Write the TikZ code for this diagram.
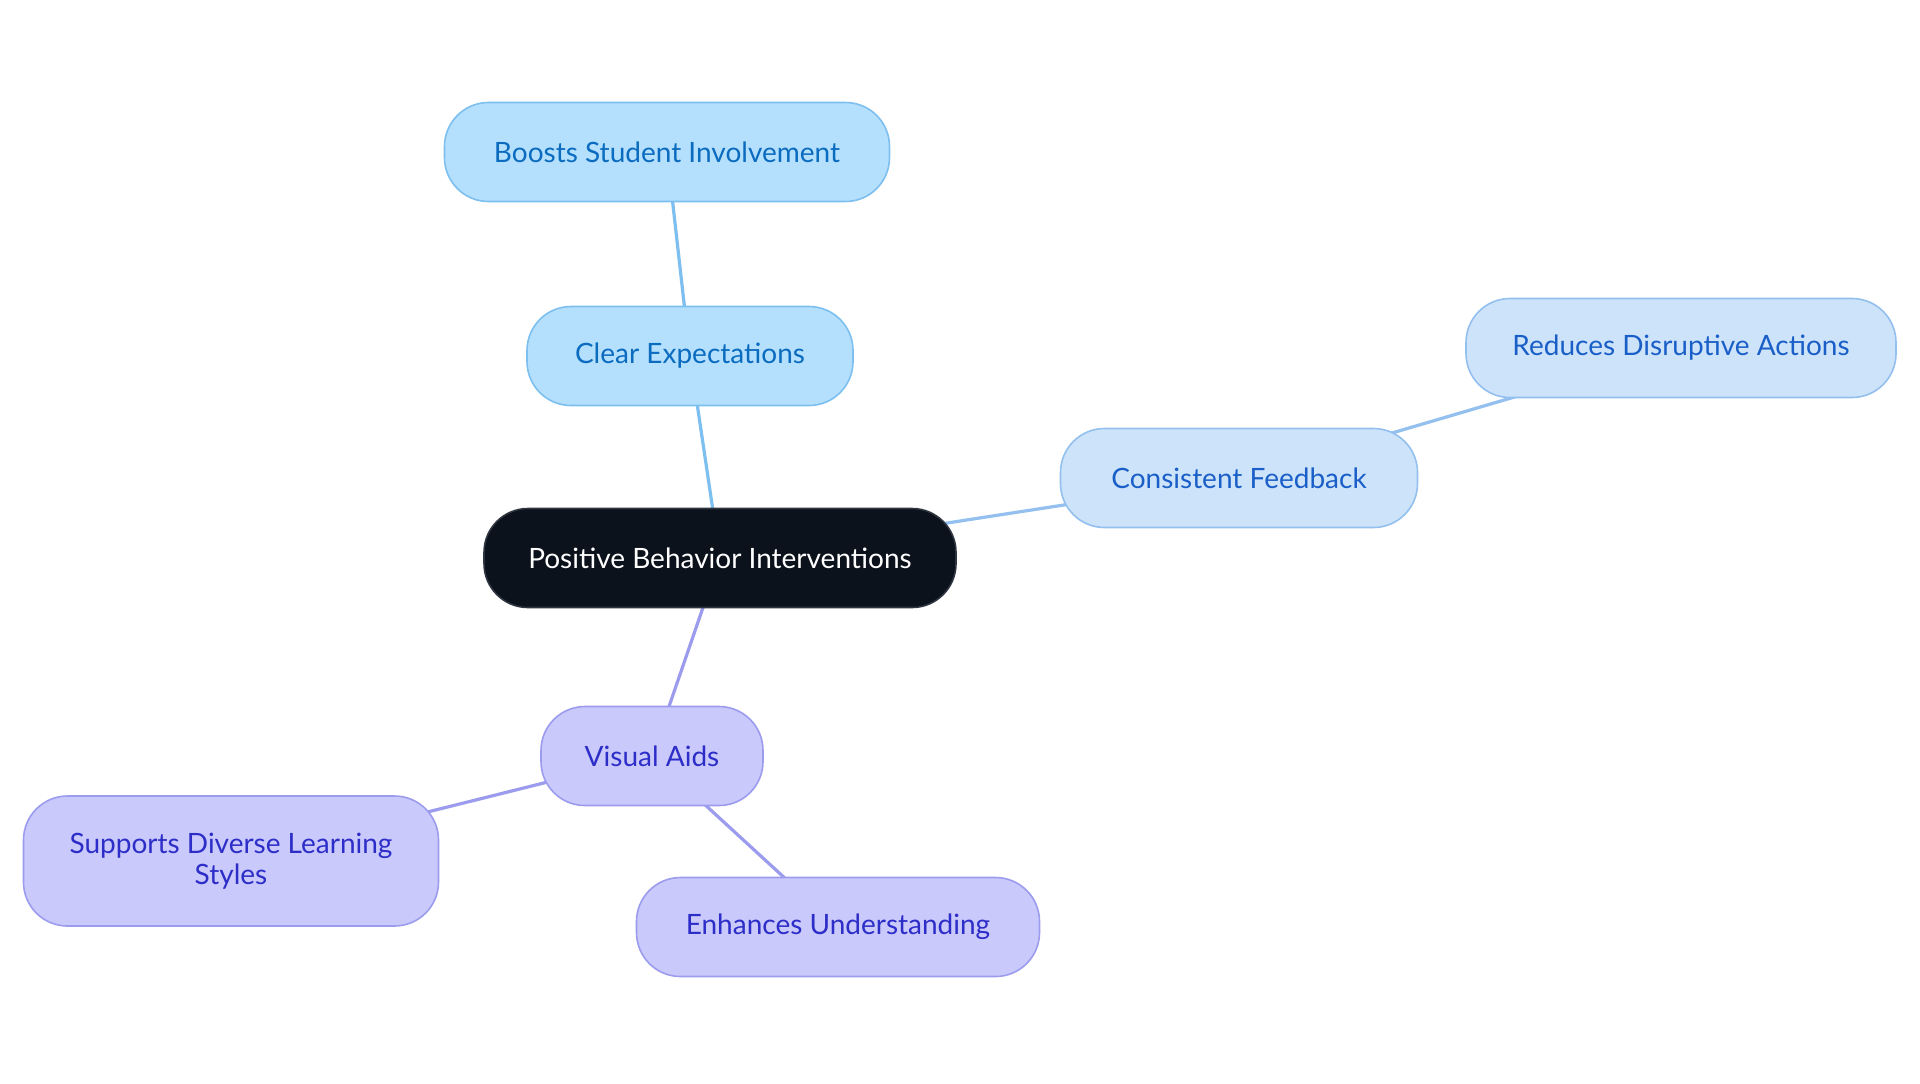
\documentclass[tikz,border=0pt]{standalone}
\usepackage{fontspec}
\setmainfont{Lato}
\usetikzlibrary{backgrounds}
\definecolor{rootfill}{HTML}{0C121B}
\definecolor{rootdraw}{HTML}{2E3540}
\definecolor{bfill}{HTML}{B4E0FD}
\definecolor{bdraw}{HTML}{7DBFEF}
\definecolor{btext}{HTML}{0B6BBF}
\definecolor{cfill}{HTML}{CDE3FA}
\definecolor{cdraw}{HTML}{93C0EF}
\definecolor{ctext}{HTML}{1A5FC8}
\definecolor{pfill}{HTML}{C9C9FC}
\definecolor{pdraw}{HTML}{9C9CEE}
\definecolor{ptext}{HTML}{2D2DC8}
\tikzset{
  box/.style={rounded corners=22pt, line width=0.8pt, minimum height=49.5pt, align=center, inner sep=0pt, font=\fontsize{14}{15.5}\selectfont},
  rootbox/.style={box, fill=rootfill, draw=rootdraw, text=white},
  bluebox/.style={box, fill=bfill, draw=bdraw, text=btext},
  lbluebox/.style={box, fill=cfill, draw=cdraw, text=ctext},
  purplebox/.style={box, fill=pfill, draw=pdraw, text=ptext},
  bedge/.style={draw=bdraw, line width=1.6pt},
  cedge/.style={draw=cdraw, line width=1.6pt},
  pedge/.style={draw=pdraw, line width=1.6pt},
}
\begin{document}
\begin{tikzpicture}[x=0.5pt,y=-0.5pt]
\useasboundingbox (0,0) rectangle (1920,1083);
\node[rootbox, minimum width=236pt] (root) at (720,558) {Positive Behavior Interventions};
\node[bluebox, minimum width=163pt] (clear) at (690,356) {Clear Expectations};
\node[bluebox, minimum width=222.5pt] (boost) at (667,152) {Boosts Student Involvement};
\node[lbluebox, minimum width=178.5pt] (cons) at (1239,478) {Consistent Feedback};
\node[lbluebox, minimum width=215pt] (red) at (1681,348) {Reduces Disruptive Actions};
\node[purplebox, minimum width=111pt] (vis) at (652,756) {Visual Aids};
\node[purplebox, minimum width=207.5pt, minimum height=65pt] (sup) at (231,861) {Supports Diverse Learning\\Styles};
\node[purplebox, minimum width=201.5pt] (enh) at (838,927) {Enhances Understanding};
\begin{scope}[on background layer]
\fill[white] (0,0) rectangle (1920,1083);
\draw[bedge] (root.center) -- (clear.center);
\draw[bedge] (clear.center) -- (boost.center);
\draw[cedge] (root.center) -- (cons.center);
\draw[cedge] (cons.center) -- (red.center);
\draw[pedge] (root.center) -- (vis.center);
\draw[pedge] (vis.center) -- (sup.center);
\draw[pedge] (vis.center) -- (enh.center);
\end{scope}
\end{tikzpicture}
\end{document}
